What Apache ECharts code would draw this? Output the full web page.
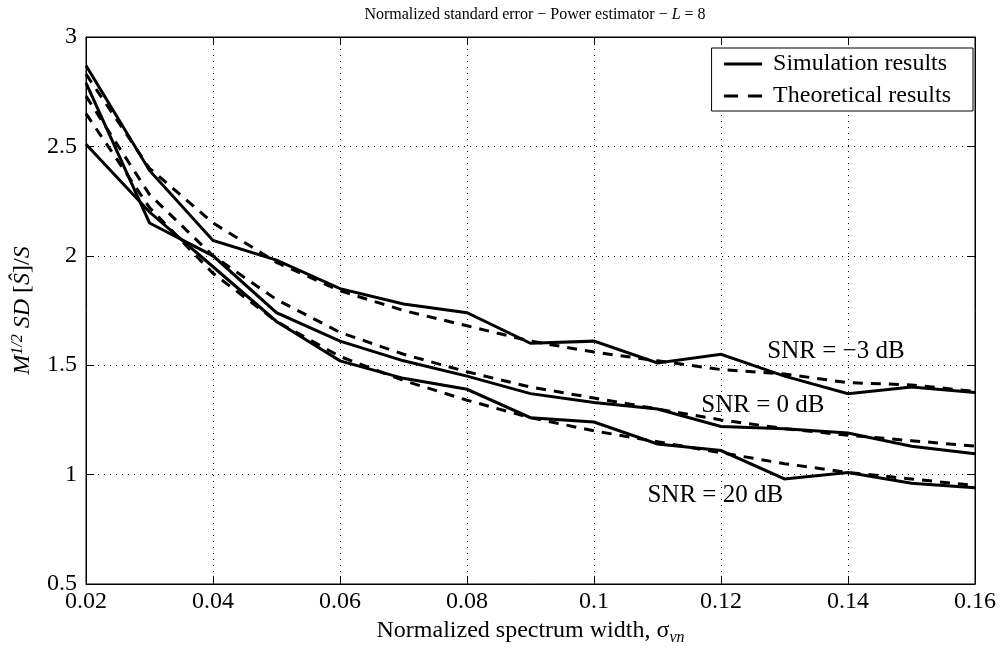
<!DOCTYPE html>
<html><head><meta charset="utf-8">
<script src="https://cdn.jsdelivr.net/npm/echarts@6/dist/echarts.min.js"></script>
<style>html,body{margin:0;padding:0;background:#fff}#c{width:1004px;height:657px}</style>
</head><body><div id="c"></div>
<script>
const sigma = [0.02,0.03,0.04,0.05,0.06,0.07,0.08,0.09,0.10,0.11,0.12,0.13,0.14,0.15,0.16];
const simM3  = [2.87,2.39,2.07,1.98,1.85,1.78,1.74,1.60,1.61,1.51,1.55,1.45,1.37,1.40,1.375];
const theoM3 = [2.83,2.40,2.15,1.97,1.84,1.75,1.68,1.61,1.56,1.52,1.48,1.46,1.42,1.41,1.38];
const sim0   = [2.79,2.15,2.00,1.74,1.61,1.52,1.45,1.37,1.33,1.30,1.22,1.21,1.19,1.13,1.095];
const theo0  = [2.73,2.28,2.00,1.80,1.65,1.55,1.47,1.40,1.35,1.30,1.25,1.21,1.18,1.155,1.13];
const sim20  = [2.51,2.20,1.95,1.70,1.52,1.44,1.39,1.26,1.24,1.14,1.11,0.98,1.01,0.96,0.94];
const theo20 = [2.65,2.22,1.92,1.70,1.54,1.43,1.34,1.26,1.20,1.15,1.10,1.05,1.01,0.98,0.95];
const xTicks = {min:0.02, max:0.16, step:0.02};
const yTicks = {min:0.5, max:3, step:0.5};
const legendNames = ['Simulation results','Theoretical results'];
const snrLabels = [
  {text:'SNR = \u22123 dB', x:0.1381, y:1.562},
  {text:'SNR = 0 dB', x:0.1266, y:1.317},
  {text:'SNR = 20 dB', x:0.1191, y:0.904}
];

const FONT = '"Liberation Serif","DejaVu Serif",serif';
const FS = 24;
const pairs = a => sigma.map((s,i)=>[s,a[i]]);
const fmt = v => String(parseFloat(v.toFixed(2)));

function mkLine(name, data, dashed, labelItem){
  const s = {
    name, type:'line', data:pairs(data), symbol:'none', silent:true, animation:false,
    lineStyle:{color:'#000', width:3, type: dashed ? [10,8] : 'solid', cap:'butt', join:'miter'},
    itemStyle:{color:'#000'}, z: dashed ? 3 : 2
  };
  if (labelItem){
    s.markPoint = {symbol:'circle', symbolSize:0, silent:true, animation:false,
      data:[{coord:[labelItem.x,labelItem.y], value:labelItem.text,
        label:{show:true, position:'inside', formatter:labelItem.text, color:'#000',
               fontFamily:FONT, fontSize:25}}]};
  }
  return s;
}

const baseAxisLine = {show:true, lineStyle:{color:'#000', width:1}};
const chart = echarts.init(document.getElementById('c'), null, {renderer:'canvas'});
chart.setOption({
  backgroundColor:'#fff',
  animation:false,
  title:{text:'Normalized standard error \u2212 Power estimator \u2212 {i|L} = 8', left:530, textAlign:'center', top:2,
    textStyle:{fontFamily:FONT, fontSize:16, fontWeight:'normal', color:'#000',
      rich:{i:{fontFamily:FONT, fontSize:16, fontStyle:'italic', color:'#000'}}}},
  grid:{left:86, right:29, top:37, bottom:73, show:true, borderColor:'#000', borderWidth:1, backgroundColor:'transparent'},
  legend:{data:[{name:legendNames[0], lineStyle:{width:3, type:'solid', color:'#000'}},
                {name:legendNames[1], lineStyle:{width:3, type:[14,10], color:'#000'}}],
    orient:'vertical', right:31, top:48, padding:[4,22,3,11],
    itemWidth:38, itemHeight:24, itemGap:8, borderColor:'#000', borderWidth:1, backgroundColor:'#fff',
    itemStyle:{opacity:0},
    textStyle:{fontFamily:FONT, fontSize:FS, color:'#000', padding:[0,0,0,6]}, selectedMode:false},
  xAxis:[{
    type:'value', min:xTicks.min, max:xTicks.max, interval:xTicks.step,
    name:'Normalized spectrum width, {s|\u03C3}{sub|vn}', nameLocation:'middle', nameGap:31,
    nameTextStyle:{fontFamily:FONT, fontSize:FS, color:'#000',
      rich:{s:{fontFamily:FONT, fontSize:FS, color:'#000'}, sub:{fontFamily:FONT, fontSize:16, fontStyle:'italic', color:'#000', verticalAlign:'bottom', padding:[14,0,0,0]}}},
    axisLine:baseAxisLine, axisTick:{show:true, inside:true, length:8, lineStyle:{color:'#000'}},
    axisLabel:{formatter:fmt, fontFamily:FONT, fontSize:FS, color:'#000', margin:6},
    splitLine:{show:true, lineStyle:{color:'#000', type:[1,5], width:1}}
  },{
    type:'value', position:'top', min:xTicks.min, max:xTicks.max, interval:xTicks.step,
    axisLine:baseAxisLine, axisTick:{show:true, inside:true, length:8, lineStyle:{color:'#000'}},
    axisLabel:{show:false}, splitLine:{show:false}
  }],
  yAxis:[{
    type:'value', min:yTicks.min, max:yTicks.max, interval:yTicks.step,
    name:'{i|M}{sup|1/2}{i| SD} [{i|\u015C}]/{i|S}', nameLocation:'middle', nameGap:50, nameRotate:90,
    nameTextStyle:{fontFamily:FONT, fontSize:FS, color:'#000',
      rich:{i:{fontFamily:FONT, fontSize:FS, fontStyle:'italic', color:'#000'},
            sup:{fontFamily:FONT, fontSize:16, fontStyle:'italic', color:'#000', verticalAlign:'top', padding:[0,0,10,0]}}},
    axisLine:baseAxisLine, axisTick:{show:true, inside:true, length:8, lineStyle:{color:'#000'}},
    axisLabel:{formatter:fmt, fontFamily:FONT, fontSize:FS, color:'#000', margin:9},
    splitLine:{show:true, lineStyle:{color:'#000', type:[1,5], width:1}}
  },{
    type:'value', position:'right', min:yTicks.min, max:yTicks.max, interval:yTicks.step,
    axisLine:baseAxisLine, axisTick:{show:true, inside:true, length:8, lineStyle:{color:'#000'}},
    axisLabel:{show:false}, splitLine:{show:false}
  }],
  series:[
    mkLine(legendNames[0], simM3, false, snrLabels[0]),
    mkLine(legendNames[0], sim0, false, snrLabels[1]),
    mkLine(legendNames[0], sim20, false, snrLabels[2]),
    mkLine(legendNames[1], theoM3, true),
    mkLine(legendNames[1], theo0, true),
    mkLine(legendNames[1], theo20, true)
  ]
});
</script>
</body></html>
